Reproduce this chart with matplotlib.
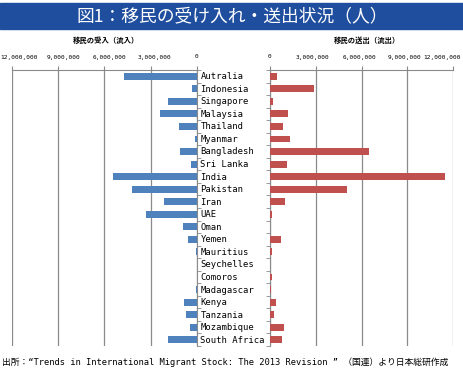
import numpy as np
import matplotlib.pyplot as plt
from matplotlib import font_manager, transforms
from matplotlib.ticker import FixedLocator

countries = ["Autralia", "Indonesia", "Singapore", "Malaysia", "Thailand", "Myanmar",
             "Bangladesh", "Sri Lanka", "India", "Pakistan", "Iran", "UAE", "Oman",
             "Yemen", "Mauritius", "Seychelles", "Comoros", "Madagascar", "Kenya",
             "Tanzania", "Mozambique", "South Africa"]
inflow = [4730000, 300000, 1850000, 2370000, 1170000, 100000, 1090000, 350000,
          5430000, 4230000, 2130000, 3300000, 870000, 550000, 50000, 10000,
          10000, 50000, 850000, 680000, 450000, 1890000]
outflow = [480000, 2880000, 220000, 1180000, 830000, 1330000, 6500000, 1110000,
           11440000, 5040000, 960000, 110000, 30000, 740000, 150000, 30000,
           110000, 80000, 390000, 280000, 940000, 790000]
ticks = [0, 3000000, 6000000, 9000000, 12000000]
tick_labels = ["0", "3,000,000", "6,000,000", "9,000,000", "12,000,000"]

names = {f.name for f in font_manager.fontManager.ttflist}
if "Noto Sans Mono CJK JP" in names:
    mono = ["Noto Sans Mono CJK JP", "DejaVu Sans"]
else:
    mono = ["DejaVu Sans Mono", "Noto Sans CJK JP"]
jp = ["Noto Sans CJK JP", "DejaVu Sans"]

W, H = 464, 381
fig = plt.figure(figsize=(W / 100, H / 100), dpi=100)
renderer = fig.canvas.get_renderer()


def fit(txt, target_px):
    # scale font size so the text is target_px wide
    w = txt.get_window_extent(renderer).width
    txt.set_fontsize(txt.get_fontsize() * target_px / w)
    return txt.get_fontsize()


def box(x0, x1, ytop, ybot):
    return [x0 / W, 1 - ybot / H, (x1 - x0) / W, (ybot - ytop) / H]

ax_l = fig.add_axes(box(12.3, 196.7, 70, 346))
ax_r = fig.add_axes(box(270, 453.3, 70, 346))

y = np.arange(len(countries))
blue = "#4f81bd"
red = "#c0504d"
grid = "#8a8a8a"

ax_l.barh(y, inflow, height=0.55, color=blue, zorder=3)
ax_r.barh(y, outflow, height=0.55, color=red, zorder=3)

for ax in (ax_l, ax_r):
    ax.set_ylim(len(countries) - 0.5, -0.5)
    ax.set_xlim(0, 12000000)
    ax.xaxis.set_major_locator(FixedLocator(ticks))
    ax.xaxis.tick_top()
    ax.tick_params(axis="x", length=3, color=grid, labeltop=False)
    ax.grid(axis="x", color=grid, lw=0.9, zorder=0)
    ax.set_yticks([])
    ax.yaxis.set_minor_locator(FixedLocator(np.arange(len(countries) + 1) - 0.5))
    for s in ax.spines.values():
        s.set_visible(False)
    ax.spines["top"].set_visible(True)
    ax.spines["top"].set_color(grid)
    ax.set_facecolor("none")

ax_l.set_xlim(12000000, 0)
ax_l.spines["right"].set_visible(True)
ax_l.spines["right"].set_color(grid)
ax_l.yaxis.tick_right()
ax_l.tick_params(axis="y", which="minor", length=3, color=grid, direction="out")
ax_r.spines["left"].set_visible(True)
ax_r.spines["left"].set_color(grid)
ax_r.tick_params(axis="y", which="minor", length=3, color=grid, direction="out", left=True)

# tick label size from the widest label
probe = fig.text(0, 0, tick_labels[-1], fontsize=6, family=mono)
tick_fs = fit(probe, 37)
probe.remove()

# tick labels (Excel pulls the outer ones inward a bit)
for ax, shifts in ((ax_l, [0, 4, 5.5, 5, 7]), (ax_r, [0, -3, -2.5, -3, -11])):
    for v, lab, dx in zip(ticks, tick_labels, shifts):
        tr = transforms.blended_transform_factory(ax.transData, ax.transAxes) + \
            transforms.ScaledTranslation(dx / 100, 13 / 100, fig.dpi_scale_trans)
        ax.text(v, 1, lab, transform=tr, fontsize=tick_fs, family=mono,
                ha="center", va="center", clip_on=False)

probe = fig.text(0, 0, "South Africa", fontsize=8, family=mono)
lab_fs = fit(probe, 65)
probe.remove()
for i, name in enumerate(countries):
    fig.text(200.5 / W, 1 - (76.7 + i * 12.55) / H, name, fontsize=lab_fs, family=mono,
             va="center", ha="left")

# title banner
fig.patches.append(plt.Rectangle((0, 1 - 29 / H), 1, 26 / H, transform=fig.transFigure,
                                 color="#1f4e9e", zorder=0))
t = fig.text(0.5, 1 - 16 / H, "図1：移民の受け入れ・送出状況（人）", color="white",
             fontsize=12.5, family=jp, ha="center", va="center")
fit(t, 312)
for xc, s in ((106, "移民の受入（流入）"), (367, "移民の送出（流出）")):
    t = fig.text(xc / W, 1 - 40 / H, s, fontsize=6.2, family=jp,
                 fontweight="bold", ha="center", va="center")
    fit(t, 66)
t = fig.text(2 / W, 1 - 362 / H,
             "出所：“Trends in International Migrant Stock: The 2013 Revision ” （国連）より日本総研作成",
             fontsize=7.0, family=mono, ha="left", va="center")
fit(t, 452)

fig.savefig("out.png", dpi=100)
